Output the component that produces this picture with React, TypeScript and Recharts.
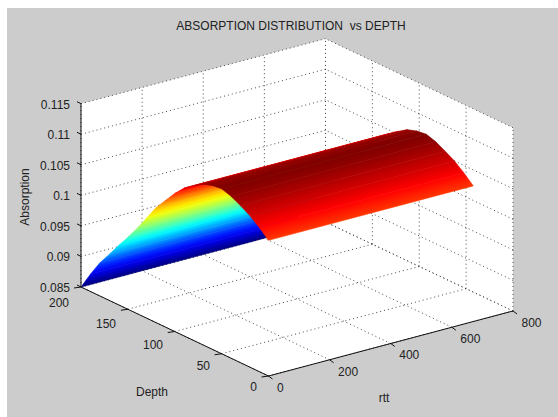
import { Scatter, ScatterChart, XAxis, YAxis } from "recharts";

// values
const rttTicks = [0, 200, 400, 600, 800];
const depthTicks = [0, 50, 100, 150, 200];
const absorptionTicks = [0.085, 0.09, 0.095, 0.1, 0.105, 0.11, 0.115];
const rttValues = [0, 670];
const depthValues = [0, 10, 20, 30, 40, 50, 60, 70, 80, 90, 100, 110, 120, 130, 140, 150, 160, 170, 180, 190, 200];
const absorptionByDepth = [
  0.1072, 0.1086, 0.1098, 0.1107, 0.1115, 0.112, 0.1118, 0.1113, 0.1103, 0.1092, 0.1076, 0.1057, 0.1038, 0.1014,
  0.099, 0.0968, 0.0947, 0.0925, 0.0904, 0.0878, 0.085,
];

const W = 558;
const H = 417;
const rttMax = 800;
const depthMax = 200;
const zMin = 0.085;
const zMax = 0.115;
const grid = { stroke: "#4a4a4a", strokeWidth: 1, strokeDasharray: "1 3" };
const solid = { stroke: "#111", strokeWidth: 1 };

// matlab view is orthographic, so the projection is affine
function project(rtt: number, depth: number, z: number) {
  return {
    x: 268.5 + 0.3056 * rtt - 0.9375 * depth,
    y: 376 - 0.0813 * rtt - 0.445 * depth - (z - zMin) * 6110,
  };
}

function jet(t: number) {
  const c = (v: number) => Math.round(255 * Math.max(0, Math.min(1, v)));
  return `rgb(${c(1.5 - Math.abs(4 * t - 3))},${c(1.5 - Math.abs(4 * t - 2))},${c(1.5 - Math.abs(4 * t - 1))})`;
}

const zLow = Math.min(...absorptionByDepth);
const zHigh = Math.max(...absorptionByDepth);
const level = (z: number) => (z - zLow) / (zHigh - zLow);

// far side first, the near side then covers it (painter's order)
const patches: any[] = [];
for (let i = depthValues.length - 2; i >= 0; i--) {
  const [r0, r1] = rttValues;
  const a0 = project(r0, depthValues[i], absorptionByDepth[i]);
  const a1 = project(r1, depthValues[i], absorptionByDepth[i]);
  const b1 = project(r1, depthValues[i + 1], absorptionByDepth[i + 1]);
  const b0 = project(r0, depthValues[i + 1], absorptionByDepth[i + 1]);
  const corners = [a0, a1, b1, b0];
  patches.push({
    id: `patch${i}`,
    x: (a0.x + b1.x) / 2,
    y: (a0.y + b1.y) / 2,
    corners,
    t0: level(absorptionByDepth[i]),
    t1: level(absorptionByDepth[i + 1]),
  });
}

function PatchShape(props: any) {
  const { cx, cy } = props;
  const p = props.payload ?? props;
  const pts = p.corners.map((c: any) => ({ x: cx + c.x - p.x, y: cy + c.y - p.y }));
  // gradient runs across the strip, perpendicular to the rtt edges
  const ux = pts[1].x - pts[0].x;
  const uy = pts[1].y - pts[0].y;
  const vx = pts[3].x - pts[0].x;
  const vy = pts[3].y - pts[0].y;
  const k = (vx * ux + vy * uy) / (ux * ux + uy * uy);
  const points = pts.map((c: any) => `${c.x},${c.y}`).join(" ");
  return (
    <g>
      <defs>
        <linearGradient
          id={p.id}
          gradientUnits="userSpaceOnUse"
          x1={pts[0].x}
          y1={pts[0].y}
          x2={pts[0].x + vx - k * ux}
          y2={pts[0].y + vy - k * uy}
        >
          <stop offset="0" stopColor={jet(p.t0)} />
          <stop offset="0.5" stopColor={jet((p.t0 + p.t1) / 2)} />
          <stop offset="1" stopColor={jet(p.t1)} />
        </linearGradient>
      </defs>
      <polygon points={points} fill={`url(#${p.id})`} stroke={`url(#${p.id})`} strokeWidth={0.6} />
    </g>
  );
}

function WallShape(props: any) {
  const { cx, cy } = props;
  const p = props.payload ?? props;
  const points = p.corners.map((c: any) => `${cx + c.x - p.x},${cy + c.y - p.y}`).join(" ");
  return <polygon points={points} fill="#fff" />;
}

function TextShape(props: any) {
  const { cx, cy } = props;
  const p = props.payload ?? props;
  return (
    <text
      x={cx}
      y={cy}
      textAnchor={p.anchor}
      dominantBaseline="central"
      fontFamily="'Liberation Sans', Arial, sans-serif"
      fontSize={12}
      fill="#222"
      style={{ whiteSpace: "pre" }}
      transform={p.rotate ? `rotate(${p.rotate} ${cx} ${cy})` : undefined}
    >
      {p.text}
    </text>
  );
}

const noMark = () => <g />;

const wallCorners = [
  project(0, depthMax, zMin),
  project(0, depthMax, zMax),
  project(rttMax, depthMax, zMax),
  project(rttMax, 0, zMax),
  project(rttMax, 0, zMin),
  project(0, 0, zMin),
];
const walls = [{ x: W / 2, y: H / 2, corners: wallCorners }];

const labels = [
  { x: 291, y: 26, text: "ABSORPTION DISTRIBUTION  vs DEPTH", anchor: "middle" },
  { x: 152, y: 392, text: "Depth", anchor: "middle" },
  { x: 384, y: 398, text: "rtt", anchor: "middle" },
  { x: 25, y: 197, text: "Absorption", anchor: "middle", rotate: -90 },
  ...absorptionTicks.map((z) => ({
    x: 70,
    y: project(0, depthMax, z).y + 1,
    text: String(Number(z.toFixed(3))),
    anchor: "end",
  })),
  ...depthTicks.map((d) => ({ x: 257 - 0.94 * d, y: 387 - 0.42 * d, text: String(d), anchor: "end" })),
  ...rttTicks.map((r) => ({ x: 277 + 0.3056 * r, y: 388 - 0.0813 * r, text: String(r), anchor: "start" })),
];

type Seg = [{ x: number; y: number }, { x: number; y: number }];

const gridSegs: Seg[] = [
  // floor
  ...rttTicks.map((r) => [project(r, 0, zMin), project(r, depthMax, zMin)] as Seg),
  ...depthTicks.map((d) => [project(0, d, zMin), project(rttMax, d, zMin)] as Seg),
  // back wall
  ...rttTicks.map((r) => [project(r, depthMax, zMin), project(r, depthMax, zMax)] as Seg),
  ...absorptionTicks.map((z) => [project(0, depthMax, z), project(rttMax, depthMax, z)] as Seg),
  // side wall
  ...depthTicks.map((d) => [project(rttMax, d, zMin), project(rttMax, d, zMax)] as Seg),
  ...absorptionTicks.map((z) => [project(rttMax, 0, z), project(rttMax, depthMax, z)] as Seg),
];

const tick = (p: { x: number; y: number }, dx: number, dy: number): Seg => [p, { x: p.x + dx, y: p.y + dy }];

const axisSegs: Seg[] = [
  [project(0, depthMax, zMin), project(0, depthMax, zMax)],
  [project(0, depthMax, zMin), project(0, 0, zMin)],
  [project(0, 0, zMin), project(rttMax, 0, zMin)],
  ...absorptionTicks.map((z) => tick(project(0, depthMax, z), -4, -2)),
  ...depthTicks.map((d) => tick(project(0, d, zMin), -7, 1)),
  ...rttTicks.map((r) => tick(project(r, 0, zMin), 4, 3)),
];

export default function App() {
  return (
    <div style={{ position: "absolute", left: 0, top: 0, width: W, height: H, background: "#fff", overflow: "hidden" }}>
      <div style={{ position: "absolute", left: 7, top: 8, width: W - 7, height: H - 8, background: "#cccccc" }} />
      <div style={{ position: "absolute", left: 0, top: 0 }}>
        <ScatterChart width={W} height={H} margin={{ top: 0, right: 0, bottom: 0, left: 0 }}>
          <XAxis type="number" dataKey="x" domain={[0, W]} hide />
          <YAxis type="number" dataKey="y" domain={[0, H]} reversed hide />
          <Scatter data={walls} shape={WallShape} isAnimationActive={false} />
          {gridSegs.map((s, i) => (
            <Scatter key={`g${i}`} data={s} line={grid} shape={noMark} isAnimationActive={false} />
          ))}
          <Scatter data={patches} shape={PatchShape} isAnimationActive={false} />
          {axisSegs.map((s, i) => (
            <Scatter key={`a${i}`} data={s} line={solid} shape={noMark} isAnimationActive={false} />
          ))}
          <Scatter data={labels} shape={TextShape} isAnimationActive={false} />
        </ScatterChart>
      </div>
    </div>
  );
}
